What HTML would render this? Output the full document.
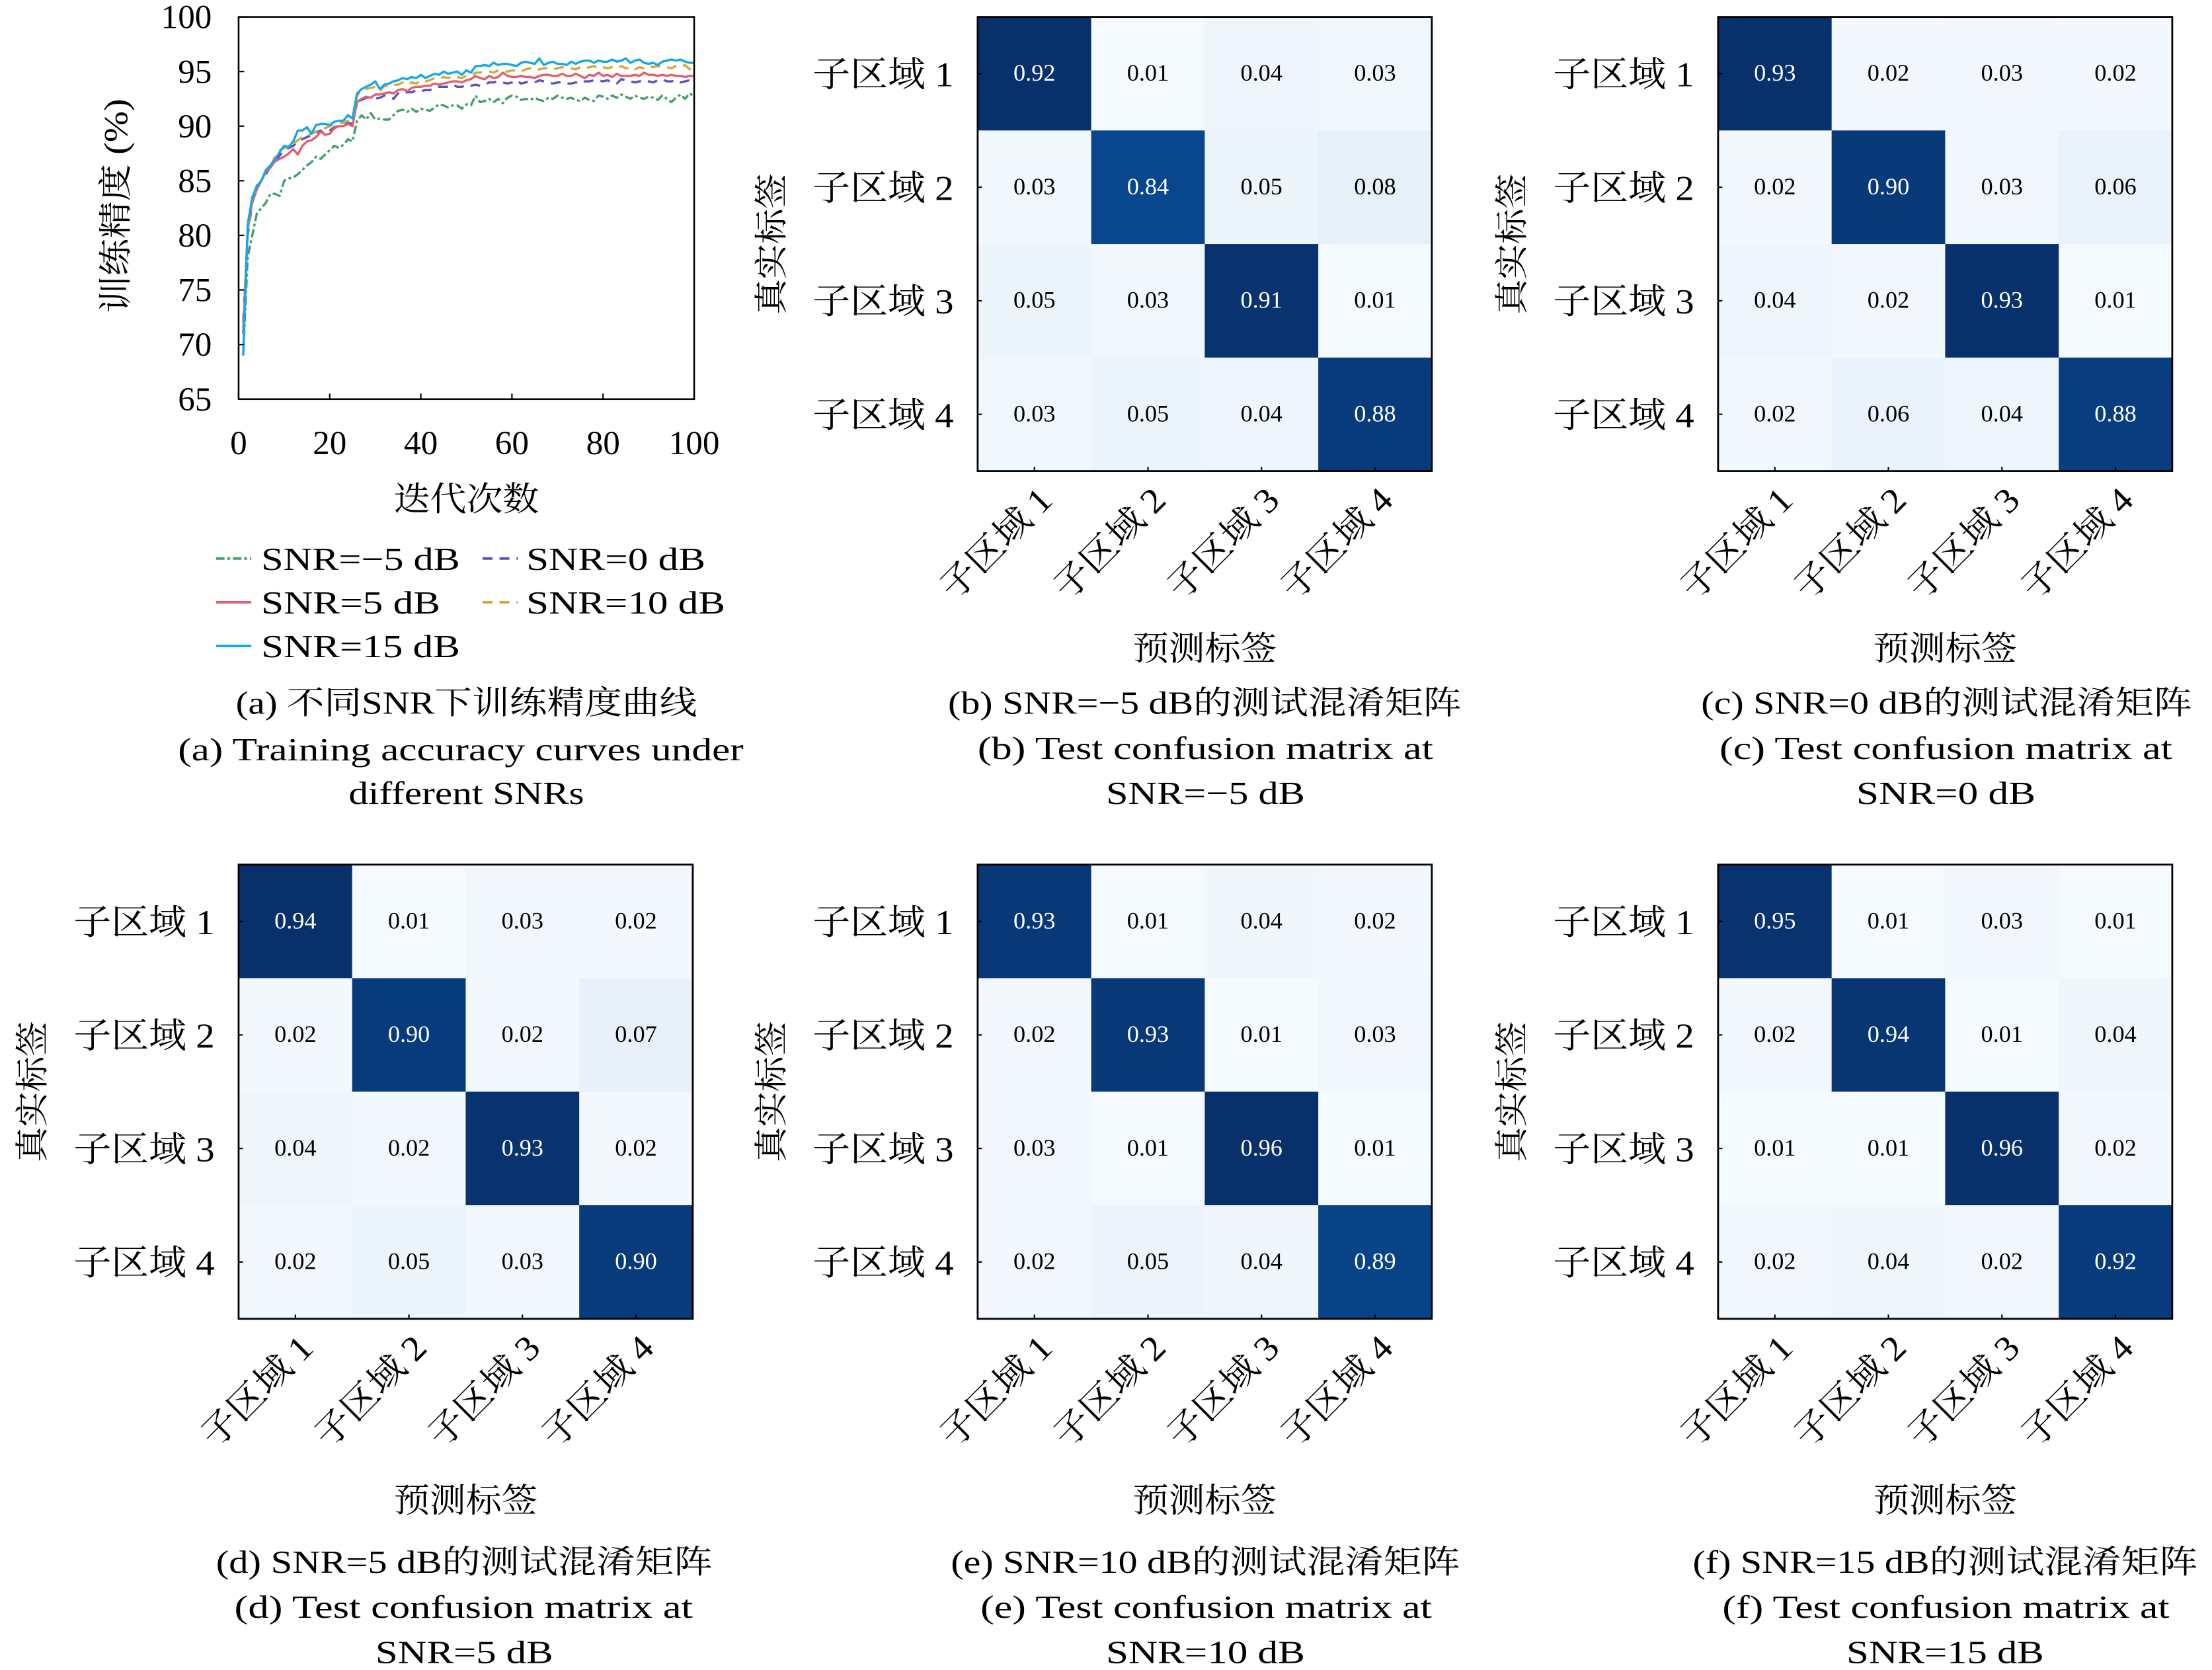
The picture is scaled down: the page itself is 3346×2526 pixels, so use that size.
<!DOCTYPE html>
<html><head><meta charset="utf-8">
<style>
html,body{margin:0;padding:0;background:#fff;}
svg{display:block;}
text{font-family:"Liberation Serif","Noto Serif CJK SC",serif;fill:#000;}
</style></head>
<body>
<svg id="fig" xmlns="http://www.w3.org/2000/svg" width="3346" height="2526" viewBox="0 0 1568 1184">
<rect width="1568" height="1184" fill="#fff"/>
<g id="lineChart"></g>
<g id="matrices"></g>
</svg>
<script>
// ---------- line chart data ----------
const xTicks = [0,20,40,60,80,100];
const yTicks = [65,70,75,80,85,90,95,100];
const seriesNames = ["SNR=−5 dB","SNR=0 dB","SNR=5 dB","SNR=10 dB","SNR=15 dB"];
const snrM5 = [69,78,80,82,82.5,83,83.8,83.8,83.6,85,85.2,85.3,85.6,86,86.4,86.7,87.2,87,87.4,87.8,88.2,88,88.3,88.8,88.6,90.5,91,90.6,91.2,90.6,90.7,90.6,90.6,91,91.4,91.5,91.3,91.6,91.3,91.6,91.5,91.4,91.7,92,91.9,91.7,91.9,91.9,91.6,92,91.9,92.8,92.2,92.3,92.5,92.2,92.5,92.1,92.6,92.8,92.7,92.4,92.5,92.4,92.6,92.4,92.3,92.6,92.5,92.8,92.6,92.5,92.6,92.4,92.3,92.6,92.4,92.3,92.8,92.7,92.5,92.8,92.6,92.9,92.7,92.5,92.8,92.6,92.5,92.7,92.6,92.4,92.8,92.5,92.2,92.6,92.9,92.5,93,92.7];
const snr0 = [72,80,83,84.4,85,85.6,86.3,86.6,87.3,87.8,88,88.2,88.6,88.8,89,89.2,89.4,89.6,89.2,89.6,89.9,90,90.1,90.3,90.2,92.2,92.4,92.6,92.6,92.5,92.6,92.8,92.7,92.5,93,92.9,93.1,93.1,93.3,93.2,93.3,93.3,93.5,93.6,93.6,93.6,93.8,93.6,93.6,93.8,93.7,93.8,93.7,93.8,94,94,94.1,94,93.9,94,94.2,93.9,94,94.1,94,94.2,94.1,94,93.9,94,94,93.9,93.9,94,93.9,94.1,94.1,94.2,94.2,94.1,94.2,94,93.9,94.3,94.2,94.1,94,94.1,94.2,94.1,94,94.2,94.3,94.1,94.1,94.2,94,94.1,94.2,94.1];
const snr5 = [71,80.5,83,84.2,85,85.8,86.2,86.8,87,87.2,87.5,87.9,87.4,88.2,88.6,88.7,89,89.5,89.2,89.3,89.8,90,90,90.2,90,92.2,92.5,92.7,92.6,92.9,92.9,93,93.1,93,93.3,93.4,93.2,93.5,93.6,93.6,93.7,93.7,93.9,93.8,93.9,94,94.1,94.1,94,94.2,94.3,94.6,94.4,94.3,94.6,94.4,94.5,94.9,94.6,94.5,94.5,94.6,94.5,94.5,94.4,94.6,94.7,94.7,94.6,94.6,94.8,94.6,94.6,94.8,94.6,94.4,94.7,94.6,94.9,94.6,94.7,94.5,94.8,94.6,94.6,94.6,94.7,94.6,94.9,94.7,94.7,94.6,94.7,94.6,94.7,94.6,94.6,94.5,94.6,94.6];
const snr10 = [71.5,80.5,83.2,84.6,85,86,86.3,87.2,87.8,88,88.1,88.4,88.7,89,89.1,89.3,89.5,89.8,89.8,90,90.2,90.3,90.3,90.5,90.4,92.8,93.2,93.4,93.5,93.6,93.2,93.7,93.6,93.8,93.8,94,93.8,94,93.9,94.2,94.1,94.2,94.4,94.3,94.5,94.4,94.6,94.5,94.4,94.6,94.6,94.9,94.9,95,95,94.9,95.1,95,95,95.1,95.1,95,95.2,95.3,95.1,95.2,95.3,95.3,95.2,95.3,95.4,95.3,95.3,95.2,95.4,95.3,95.4,95.5,95.3,95.4,95.3,95.4,95.3,95.5,95.3,95.4,95.2,95.4,95.3,95.5,95.4,95.5,95.4,95.4,95.3,95.5,95.4,95.6,95.2,95.4];
const snr15 = [69,81,83.5,84.5,85,86,86.4,87,87.6,88.2,88.1,88.6,89.6,89.6,89.9,89.3,90.1,90.2,90.2,90.1,90.4,90.5,90.5,91,90.7,93,93.4,93.6,93.8,94.1,93.4,93.8,93.9,94.1,94.2,94.4,94.3,94.5,94.4,94.7,94.4,94.6,94.8,94.7,95,94.8,94.9,95,94.7,95.1,94.9,95.5,95.5,95.6,95.5,95.8,95.6,95.7,95.7,95.6,95.5,95.8,95.9,95.8,95.7,96.2,95.6,95.8,95.9,95.7,95.7,95.6,95.9,95.7,95.9,96,96,95.8,96,95.9,95.9,96.1,95.9,96,96.2,95.8,96,96.1,95.8,95.7,95.8,95.6,95.9,96,96.1,96,96.1,95.9,95.8,95.8];

// ---------- confusion matrix data ----------
const classLabels = ["子区域 1","子区域 2","子区域 3","子区域 4"];
const cmB = [[0.92,0.01,0.04,0.03],[0.03,0.84,0.05,0.08],[0.05,0.03,0.91,0.01],[0.03,0.05,0.04,0.88]];
const cmC = [[0.93,0.02,0.03,0.02],[0.02,0.90,0.03,0.06],[0.04,0.02,0.93,0.01],[0.02,0.06,0.04,0.88]];
const cmD = [[0.94,0.01,0.03,0.02],[0.02,0.90,0.02,0.07],[0.04,0.02,0.93,0.02],[0.02,0.05,0.03,0.90]];
const cmE = [[0.93,0.01,0.04,0.02],[0.02,0.93,0.01,0.03],[0.03,0.01,0.96,0.01],[0.02,0.05,0.04,0.89]];
const cmF = [[0.95,0.01,0.03,0.01],[0.02,0.94,0.01,0.04],[0.01,0.01,0.96,0.02],[0.02,0.04,0.02,0.92]];

const NS = "http://www.w3.org/2000/svg";
function mk(tag, attrs, parent, txt){
  const e = document.createElementNS(NS, tag);
  for (const k in attrs) e.setAttribute(k, attrs[k]);
  if (txt !== undefined) e.textContent = txt;
  parent.appendChild(e);
  return e;
}
function fit(e, len){ e.setAttribute('textLength', len); e.setAttribute('lengthAdjust', 'spacingAndGlyphs'); return e; }

// ---------- line chart ----------
const lc = document.getElementById('lineChart');
const L = {x0:169, x1:492, y0:12, y1:283};
const xs = v => L.x0 + (v - 0) / 100 * (L.x1 - L.x0);
const ys = v => L.y1 - (v - 65) / 35 * (L.y1 - L.y0);
const styles = [
  {c:"#41a06c", d:"6 2 2 2"},
  {c:"#5b52c0", d:"7 5"},
  {c:"#e0606f", d:""},
  {c:"#d4a838", d:"7 5"},
  {c:"#15a7e8", d:""}
];
const allSeries = [snrM5, snr0, snr5, snr10, snr15];
allSeries.forEach((s, i) => {
  const pts = s.map((v, j) => xs(j + 1).toFixed(2) + "," + ys(v).toFixed(2)).join(" ");
  const pl = mk('polyline', {points:pts, fill:"none", stroke:styles[i].c, "stroke-width":1.6, "stroke-dasharray":styles[i].d, "stroke-linejoin":"round"}, lc);
  
  
});
const frame = mk('rect', {x:L.x0, y:L.y0, width:L.x1-L.x0, height:L.y1-L.y0, fill:"none", stroke:"#000", "stroke-width":1.2}, lc);


yTicks.forEach(t => {
  mk('line', {x1:L.x0, x2:L.x0+4, y1:ys(t), y2:ys(t), stroke:"#000"}, lc);
  const tx = mk('text', {x:150, y:ys(t)+8, "text-anchor":"end", "font-size":24}, lc, String(t));
  
  
});
xTicks.forEach(t => {
  mk('line', {x1:xs(t), x2:xs(t), y1:L.y1, y2:L.y1-4, stroke:"#000"}, lc);
  const tx = mk('text', {x:xs(t), y:322, "text-anchor":"middle", "font-size":24}, lc, String(t));
  
  
});
const ylab = fit(mk('text', {x:0, y:0, transform:"translate(90,146) rotate(-90)", "text-anchor":"middle", "font-size":24}, lc, "训练精度 (%)"), 152);


const xlab = fit(mk('text', {x:279, y:362, "font-size":24}, lc, "迭代次数"), 103);


const legPos = [[153,396],[342,396],[153,427],[342,427],[153,458]];
const legLen = [141,127,127,141,141];
seriesNames.forEach((n, i) => {
  const g = mk('g', {}, lc);
  
  
  const [lx, ly] = legPos[i];
  mk('line', {x1:lx, x2:lx+25, y1:ly, y2:ly, stroke:styles[i].c, "stroke-width":1.8, "stroke-dasharray":styles[i].d}, g);
  fit(mk('text', {x:lx + (i % 2 ? 31 : 32), y:ly+8, "font-size":23}, g, n), legLen[i]);
});
[["(a) 不同SNR下训练精度曲线",506,167,327],["(a) Training accuracy curves under",539,126,401],["different SNRs",570,247,167]].forEach(([t,y,x,w]) => {
  const c = fit(mk('text', {x:x, y:y, "font-size":23}, lc, t), w);
  
  
});

// ---------- confusion matrices ----------
const blues = ["#f7fbff","#deebf7","#c6dbef","#9ecae1","#6baed6","#4292c6","#2171b5","#08519c","#08306b"];
function hex(c){return [1,3,5].map(i => parseInt(c.substr(i,2),16));}
function bluesAt(t){
  t = Math.max(0, Math.min(1, t));
  const p = t * 8, i = Math.min(7, Math.floor(p)), f = p - i;
  const a = hex(blues[i]), b = hex(blues[i+1]);
  return "rgb(" + a.map((v,k) => Math.round(v + (b[k]-v)*f)).join(",") + ")";
}
const mroot = document.getElementById('matrices');
const panels = [
  {m:cmB, x:693, y:12, cap:[["(b) SNR=−5 dB的测试混淆矩阵",672,364],["(b) Test confusion matrix at",693,323],["SNR=−5 dB",784,141]], id:"b"},
  {m:cmC, x:1218, y:12, cap:[["(c) SNR=0 dB的测试混淆矩阵",1206,348],["(c) Test confusion matrix at",1219,321],["SNR=0 dB",1316,127]], id:"c"},
  {m:cmD, x:169, y:613, cap:[["(d) SNR=5 dB的测试混淆矩阵",153,352],["(d) Test confusion matrix at",166,325],["SNR=5 dB",266,126]], id:"d"},
  {m:cmE, x:693, y:613, cap:[["(e) SNR=10 dB的测试混淆矩阵",674,361],["(e) Test confusion matrix at",695,320],["SNR=10 dB",784,141]], id:"e"},
  {m:cmF, x:1218, y:613, cap:[["(f) SNR=15 dB的测试混淆矩阵",1200,358],["(f) Test confusion matrix at",1221,317],["SNR=15 dB",1309,140]], id:"f"}
];
const S = 322, cs = S / 4;
panels.forEach(p => {
  const g = mk('g', {}, mroot);
  
  
  const low = p.y > 100;
  const vmax = Math.max(...p.m.flat());
  p.m.forEach((row, r) => row.forEach((v, c) => {
    const cell = mk('rect', {x:p.x + c*cs, y:p.y + r*cs, width:cs+0.5, height:cs+0.5, fill:bluesAt(v / vmax)}, g);
    
    
    const t = mk('text', {x:p.x + c*cs + cs/2, y:p.y + r*cs + cs/2 + 5, "text-anchor":"middle", "font-size":17, style:"fill:" + (v/vmax > 0.5 ? "#fff" : "#000")}, g, v.toFixed(2));
    
    
  }));
  mk('rect', {x:p.x, y:p.y, width:S, height:S, fill:"none", stroke:"#000", "stroke-width":1.3}, g);
  classLabels.forEach((lab, i) => {
    const cy = p.y + i*cs + cs/2, cx = p.x + i*cs + cs/2;
    mk('line', {x1:p.x, x2:p.x+3, y1:cy, y2:cy, stroke:"#000"}, g);
    mk('line', {x1:cx, x2:cx, y1:p.y+S, y2:p.y+S-3, stroke:"#000"}, g);
    const yl = fit(mk('text', {x:p.x - 117, y:cy + 9, "font-size":25}, g, lab), 100);
    
    
    const xl = fit(mk('text', {x:-100, y:0, transform:"translate(" + (cx+14) + "," + (p.y+S+22) + ") rotate(-45)", "font-size":25}, g, lab), 100);
    
    
  });
  const yt = fit(mk('text', {x:0, y:0, transform:"translate(" + (p.x-138) + "," + (p.y+161) + ") rotate(-90)", "text-anchor":"middle", "font-size":24}, g, "真实标签"), 100);
  
  
  const xt = fit(mk('text', {x:p.x + S/2 - 51, y:p.y + 456 + (low ? 3 : 0), "font-size":24}, g, "预测标签"), 102);
  
  
  p.cap.forEach(([t, x, w], i) => {
    const c = fit(mk('text', {x:x, y:p.y + 494 + i*32 + (low ? 8 : 0), "font-size":23}, g, t), w);
    
    
  });
});
</script>
</body></html>
